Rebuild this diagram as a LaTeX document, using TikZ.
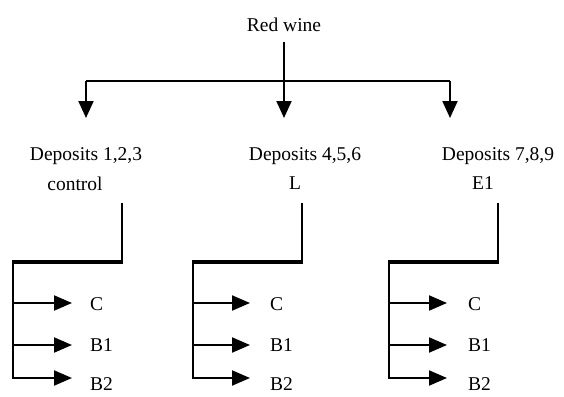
\documentclass[tikz,border=0pt]{standalone}
\usepackage{fontspec}
\setmainfont{Liberation Serif}
\usetikzlibrary{arrows.meta}
\begin{document}
\begin{tikzpicture}[x=1pt,y=-1pt,
  lbl/.style={inner sep=0pt,font=\fontsize{19.5}{23}\selectfont},
  conn/.style={line width=2pt},
  thickconn/.style={line width=3.5pt},
  arr/.style={line width=2pt,-{Triangle[length=17pt,width=15pt]}},
  harr/.style={line width=2pt,-{Triangle[length=18pt,width=15pt]}}]
\useasboundingbox (0,0) rectangle (564,396);
% top
\node[lbl,anchor=base] (rw) at (284,32) {Red wine};
\coordinate (top) at (284,42);
\coordinate (jl) at (86,81);
\coordinate (jr) at (450,81);
\coordinate (a1) at (86,118);
\coordinate (a2) at (284,118);
\coordinate (a3) at (450,118);
\draw[conn] (jl) -- (jr);
\draw[arr] (top) -- (a2);
\draw[arr] (jl) -- (a1);
\draw[arr] (jr) -- (a3);
% group labels
\node[lbl,anchor=base] (d1) at (86,160) {Deposits 1,2,3};
\node[lbl,anchor=base] (t1) at (75,190) {control};
\node[lbl,anchor=base] (d2) at (305,160) {Deposits 4,5,6};
\node[lbl,anchor=base] (t2) at (295,189) {L};
\node[lbl,anchor=base] (d3) at (498,160) {Deposits 7,8,9};
\node[lbl,anchor=base] (t3) at (483,189) {E1};
% groups
\foreach \g/\xv/\xl/\xt/\lx in {1/122/13/72/90, 2/302/193/250/270, 3/498/389/447/468} {
  \coordinate (v\g) at (\xv,203);
  \coordinate (c\g) at (\xv,262);
  \coordinate (l\g) at (\xl,262);
  \coordinate (b\g) at (\xl,378);
  \coordinate (s1\g) at (\xl,303);
  \coordinate (s2\g) at (\xl,345);
  \coordinate (e1\g) at (\xt,303);
  \coordinate (e2\g) at (\xt,345);
  \coordinate (e3\g) at (\xt,378);
  \draw[conn] (v\g) -- ([yshift=-1pt]c\g);
  \draw[thickconn] ([xshift=1pt]c\g) -- ([xshift=-1pt]l\g);
  \draw[conn] (l\g) -- ([yshift=1pt]b\g);
  \draw[harr] (s1\g) -- (e1\g);
  \draw[harr] (s2\g) -- (e2\g);
  \draw[harr] ([xshift=-1pt]b\g) -- (e3\g);
  \node[lbl,anchor=west] (C\g) at (\lx,304) {C};
  \node[lbl,anchor=west] (B1\g) at (\lx,345) {B1};
  \node[lbl,anchor=base west] (B2\g) at (\lx,390) {B2};
}
\end{tikzpicture}
\end{document}
